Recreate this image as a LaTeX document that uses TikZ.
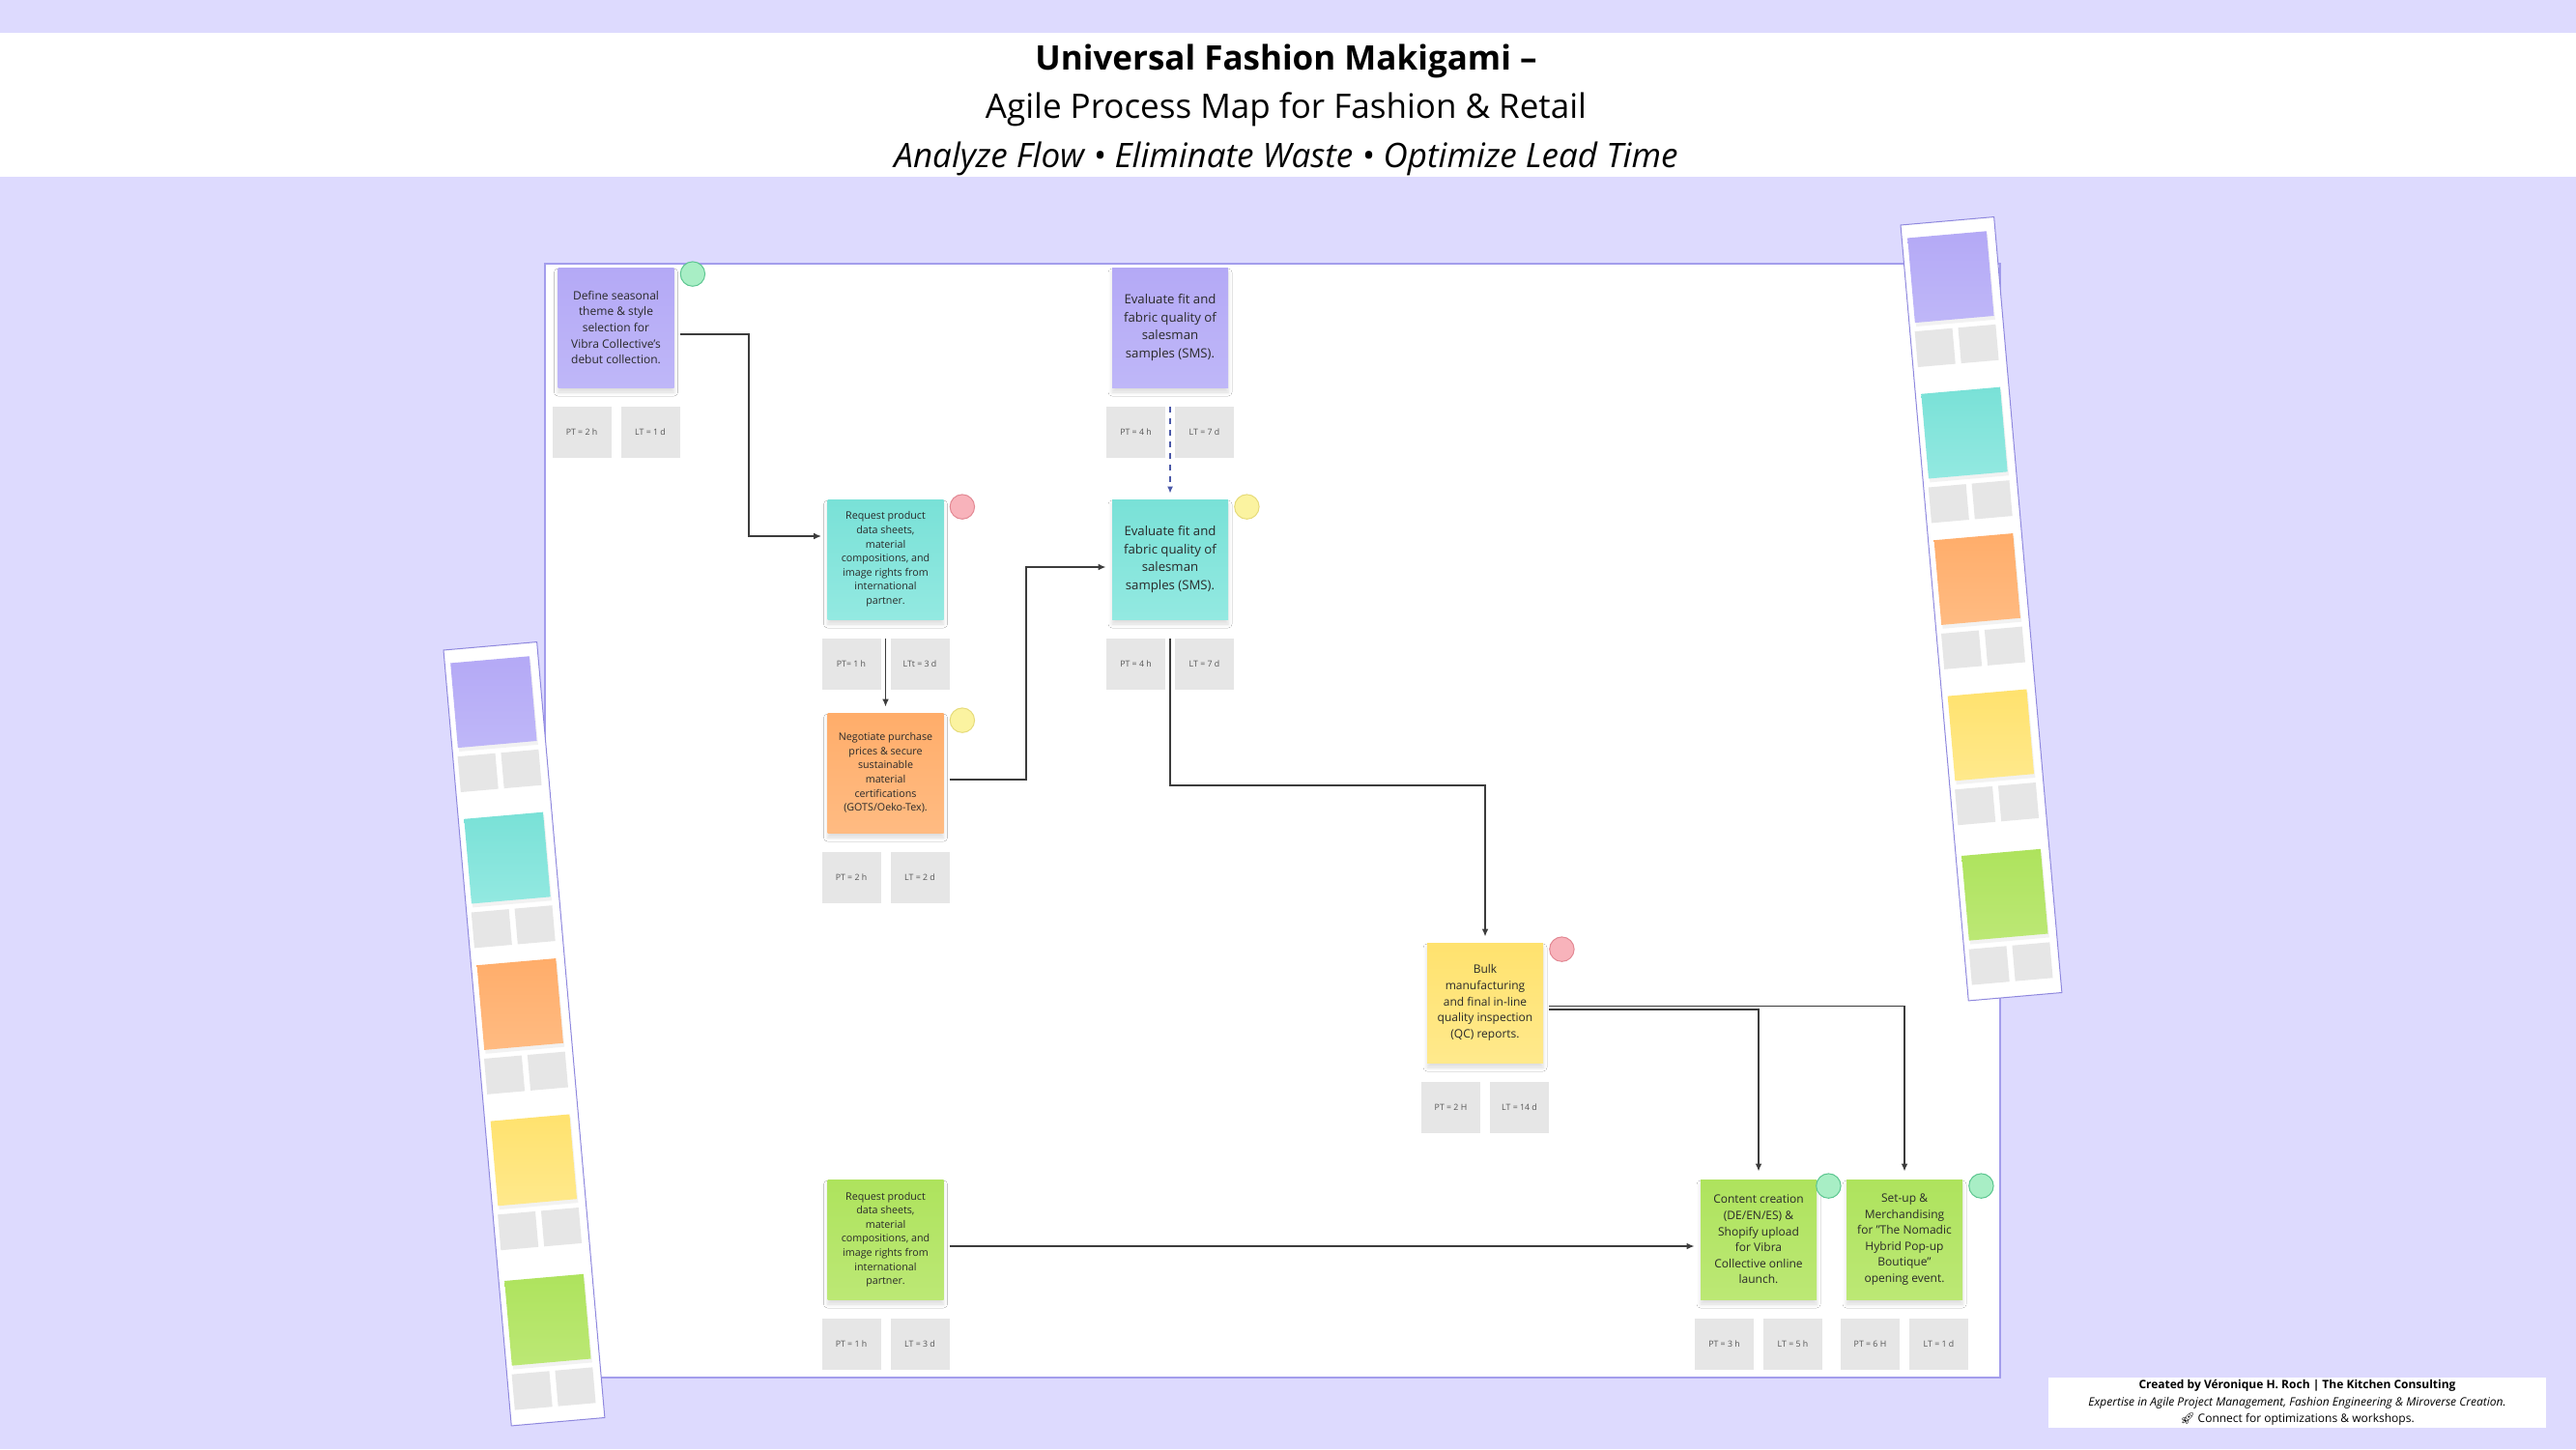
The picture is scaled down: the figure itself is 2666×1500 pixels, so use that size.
\documentclass[tikz,border=0pt]{standalone}
\usepackage{fontspec}
\setmainfont{Open Sans}
\newfontfamily\emojifont{Noto Emoji}
\usetikzlibrary{calc,arrows.meta,shadows.blur}

\definecolor{bglav}{HTML}{DDDAFE}
\definecolor{canvasborder}{HTML}{A39DEC}
\definecolor{stripborder}{HTML}{8F88DE}
\definecolor{purT}{HTML}{B4A9F6}\definecolor{purB}{HTML}{BFB7F8}
\definecolor{cyaT}{HTML}{79E1D7}\definecolor{cyaB}{HTML}{93E9E1}
\definecolor{oraT}{HTML}{FFAD6A}\definecolor{oraB}{HTML}{FFBB82}
\definecolor{yelT}{HTML}{FFE26E}\definecolor{yelB}{HTML}{FFE98C}
\definecolor{grnT}{HTML}{AEE35D}\definecolor{grnB}{HTML}{BCE875}
\definecolor{greyc}{HTML}{E6E6E6}
\definecolor{labelgrey}{HTML}{555555}
\definecolor{textdark}{HTML}{2A2A2A}
\definecolor{lineg}{HTML}{3C3C3C}
\definecolor{dashblue}{HTML}{4A58A8}
\definecolor{dotredF}{HTML}{F8B3BB}\definecolor{dotredD}{HTML}{E28893}
\definecolor{dotyelF}{HTML}{FBF3A0}\definecolor{dotyelD}{HTML}{E6DB7A}
\definecolor{dotgrnF}{HTML}{A8EEC5}\definecolor{dotgrnD}{HTML}{5CC690}

\newcommand{\mkstick}[8]{%
  \node[sticky,#4,#5] (#1) at (#2,#3) {#6};
  \node[greybox] (#1pt) at ($(#1.center)+(-35.5,108.5)$) {#7};
  \node[greybox] (#1lt) at ($(#1.center)+(35.5,108.5)$) {#8};}

\newcommand{\mkstrip}{%
  \fill[white, draw=stripborder, line width=0.5pt] (0,0) rectangle (97,806);
  \foreach \t/\cT/\cB in {14/purT/purB, 176/cyaT/cyaB, 328/oraT/oraB, 490/yelT/yelB, 656/grnT/grnB} {
    \fill[black, opacity=0.05] (7,\t+3) rectangle (89,\t+92);
    \shade[top color=\cT, bottom color=\cB] (6,\t) rectangle (88,\t+88);
    \fill[greyc] (5,\t+97) rectangle (44,\t+134);
    \fill[greyc] (50,\t+97) rectangle (89,\t+134);
  }}

\begin{document}
\begin{tikzpicture}[x=0.5pt, y=-0.5pt,
  sticky/.style={minimum width=60pt, minimum height=62pt, inner sep=0pt, align=center, text=textdark,
    blur shadow={shadow xshift=0pt, shadow yshift=-2.5pt, shadow blur radius=2pt, shadow blur steps=5, shadow opacity=14}},
  cpur/.style={top color=purT, bottom color=purB},
  ccya/.style={top color=cyaT, bottom color=cyaB},
  cora/.style={top color=oraT, bottom color=oraB},
  cyel/.style={top color=yelT, bottom color=yelB},
  cgrn/.style={top color=grnT, bottom color=grnB},
  fsa/.style={font=\fontsize{6}{8.3}\selectfont},
  fsb/.style={font=\fontsize{6.6}{9.2}\selectfont},
  fsc/.style={font=\fontsize{5.35}{7.3}\selectfont},
  greybox/.style={fill=greyc, minimum width=30.5pt, minimum height=26.5pt, inner sep=0pt,
    text=labelgrey, font=\fontsize{4.4}{5}\selectfont},
  dot/.style={circle, minimum size=12.7pt, inner sep=0pt, line width=0.5pt},
  dred/.style={dot, fill=dotredF, draw=dotredD},
  dyel/.style={dot, fill=dotyelF, draw=dotyelD},
  dgrn/.style={dot, fill=dotgrnF, draw=dotgrnD},
  conn/.style={draw=lineg, line width=0.9pt, -{Latex[length=4pt,width=3.4pt]}},
  dashc/.style={draw=dashblue, line width=0.8pt, dash pattern=on 3pt off 3pt, -{Latex[length=3.5pt,width=3pt]}},
  title/.style={text=black, inner sep=0pt}
]
\useasboundingbox (0,0) rectangle (2666,1500);
\fill[bglav] (0,0) rectangle (2666,1500);
\fill[white] (0,34) rectangle (2666,183);

% titles
\node[title, font=\fontsize{17.5}{20}\selectfont\bfseries] (t1) at (1331,63) {Universal Fashion Makigami –};
\node[title, font=\fontsize{17.5}{20}\selectfont] (t2) at (1331,113) {Agile Process Map for Fashion \& Retail};
\node[title, font=\fontsize{17.5}{20}\selectfont\itshape] (t3) at (1331,164) {Analyze Flow • Eliminate Waste • Optimize Lead Time};

% canvas
\draw[canvasborder, fill=white, line width=0.6pt] (564,273) rectangle (2070,1426);

% sticky notes
\mkstick{S1}{637.5}{339}{cpur}{fsa}{Define seasonal\\theme \& style\\selection for\\Vibra Collective's\\debut collection.}{PT = 2 h}{LT = 1 d}
\mkstick{E1}{1211}{339}{cpur}{fsb}{Evaluate fit and\\fabric quality of\\salesman\\samples (SMS).}{PT = 4 h}{LT = 7 d}
\mkstick{R1}{916.5}{579}{ccya}{fsc}{Request product\\data sheets,\\material\\compositions, and\\image rights from\\international\\partner.}{PT= 1 h}{LTt = 3 d}
\mkstick{E2}{1211}{579}{ccya}{fsb}{Evaluate fit and\\fabric quality of\\salesman\\samples (SMS).}{PT = 4 h}{LT = 7 d}
\mkstick{N}{916.5}{800}{cora}{fsc}{Negotiate purchase\\prices \& secure\\sustainable\\material\\certifications\\(GOTS/Oeko-Tex).}{PT = 2 h}{LT = 2 d}
\mkstick{Y}{1537}{1038}{cyel}{fsa}{Bulk\\manufacturing\\and final in-line\\quality inspection\\(QC) reports.}{PT = 2 H}{LT = 14 d}
\mkstick{G1}{916.5}{1283}{cgrn}{fsc}{Request product\\data sheets,\\material\\compositions, and\\image rights from\\international\\partner.}{PT = 1 h}{LT = 3 d}
\mkstick{C}{1820}{1283}{cgrn}{fsa}{Content creation\\(DE/EN/ES) \&\\Shopify upload\\for Vibra\\Collective online\\launch.}{PT = 3 h}{LT = 5 h}
\mkstick{U}{1971}{1283}{cgrn}{fsa}{Set-up \&\\Merchandising\\for "The Nomadic\\Hybrid Pop-up\\Boutique"\\opening event.}{PT = 6 H}{LT = 1 d}

% dots
\node[dgrn] (S1dot) at ($(S1.north east)+(19,7)$) {};
\node[dred] (R1dot) at ($(R1.north east)+(19,8)$) {};
\node[dyel] (E2dot) at ($(E2.north east)+(19,8)$) {};
\node[dyel] (Ndot) at ($(N.north east)+(19,8)$) {};
\node[dred] (Ydot) at ($(Y.north east)+(19,7)$) {};
\node[dgrn] (Cdot) at ($(C.north east)+(12,7)$) {};
\node[dgrn] (Udot) at ($(U.north east)+(19,7)$) {};

% connectors
\coordinate (k1) at (775,555);
\draw[conn] ($(S1.east)+(6,7)$) -| (k1) -- ($(R1.west)+(-6,-24)$);
\draw[conn] ($(R1.south)+(0,20)$) -- ($(N.north)+(0,-6)$);
\coordinate (k2) at (1062,587);
\draw[conn] ($(N.east)+(6,7)$) -| (k2) -- ($(E2.west)+(-6,8)$);
\draw[dashc] ($(E1.south)+(0,20)$) -- ($(E2.north)+(0,-6)$);
\draw[conn] ($(E2.south)+(0,20)$) |- ($(Y.north)+(0,-163)$) -- ($(Y.north)+(0,-6)$);
\draw[conn] ($(Y.east)+(6,3.5)$) -| ($(U.north)+(0,-8)$);
\draw[conn] ($(Y.east)+(6,7)$) -| ($(C.north)+(0,-8)$);
\draw[conn] ($(G1.east)+(6,7)$) -- ($(C.west)+(-6,7)$);

% side strips
\begin{scope}[shift={(459,673)}, rotate=5]
\mkstrip
\end{scope}
\begin{scope}[shift={(1967,233)}, rotate=5]
\mkstrip
\end{scope}

% footer
\node[fill=white, minimum width=257.5pt, minimum height=26pt, inner sep=0pt, align=center,
  font=\fontsize{6}{8.8}\selectfont, text=black] (foot) at (2377.5,1452)
  {\textbf{Created by Véronique H. Roch | The Kitchen Consulting}\\
   \textit{Expertise in Agile Project Management, Fashion Engineering \& Miroverse Creation.}\\
   {\emojifont 🚀} Connect for optimizations \& workshops.};
\end{tikzpicture}
\end{document}
